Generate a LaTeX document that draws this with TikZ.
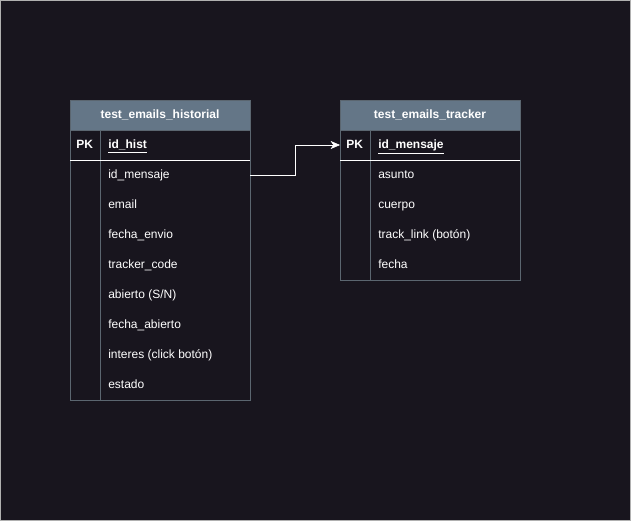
\documentclass[tikz,border=0pt]{standalone}
\usepackage{fontspec}
\setmainfont{Liberation Sans}
\usetikzlibrary{arrows.meta}
\definecolor{bgdark}{HTML}{18151E}
\definecolor{hdrfill}{HTML}{647687}
\definecolor{tblline}{HTML}{5B6670}
\definecolor{framegray}{HTML}{B0B0B0}
\begin{document}
\begin{tikzpicture}[x=0.75pt,y=-0.75pt,
hdr/.style={fill=hdrfill,draw=tblline,text=white,font=\fontsize{9}{11}\selectfont\bfseries},
fld/.style={anchor=west,text=white,inner sep=0pt,text height=1.6ex,text depth=0.5ex,font=\fontsize{9}{11}\selectfont},
pk/.style={fld,font=\fontsize{9}{11}\selectfont\bfseries}]
\fill[bgdark] (0,0) rectangle (631,521);
\draw[framegray,line width=0.4pt] (0.5,0.5) rectangle (630.5,520.5);

% tabla historial
\fill[bgdark] (70,130) rectangle (250,400);
\draw[hdr] (70,100) rectangle (250,130);
\node[text=white,font=\fontsize{9}{11}\selectfont\bfseries] (hist) at (160,115) {test\_emails\_historial};
\draw[tblline] (70,130) rectangle (250,400);
\draw[tblline] (100,130) -- (100,400);
\draw[white] (70,160) -- (250,160);
\node[pk] (pkhist) at (76,145) {PK};
\node[pk] (idhist) at (108,145) {\underline{id\_hist}};
\foreach \y/\txt/\nm in {175/id\_mensaje/idmsg,205/email/email,235/fecha\_envio/fenvio,
  265/tracker\_code/tcode,295/{abierto (S/N)}/abierto,325/fecha\_abierto/fabierto,
  355/interes (click botón)/interes,385/estado/estado}
  \node[fld] (\nm) at (108,\y) {\txt};

% tabla tracker
\fill[bgdark] (340,130) rectangle (520,280);
\draw[hdr] (340,100) rectangle (520,130);
\node[text=white,font=\fontsize{9}{11}\selectfont\bfseries] (track) at (430,115) {test\_emails\_tracker};
\draw[tblline] (340,130) rectangle (520,280);
\draw[tblline] (370,130) -- (370,280);
\draw[white] (340,160) -- (520,160);
\node[pk] (pktrack) at (346,145) {PK};
\node[pk] (idtrack) at (378,145) {\underline{id\_mensaje}};
\foreach \y/\txt/\nm in {175/asunto/asunto,205/cuerpo/cuerpo,235/track\_link (botón)/tlink,265/fecha/fecha}
  \node[fld] (\nm) at (378,\y) {\txt};

% relacion
\coordinate (from) at (250,175);
\coordinate (to) at (340,145);
\draw[white,-{Stealth[length=7pt,width=6pt,inset=2pt]}] (from) -- (295,175) -- (295,145) -- (to);
\end{tikzpicture}
\end{document}
